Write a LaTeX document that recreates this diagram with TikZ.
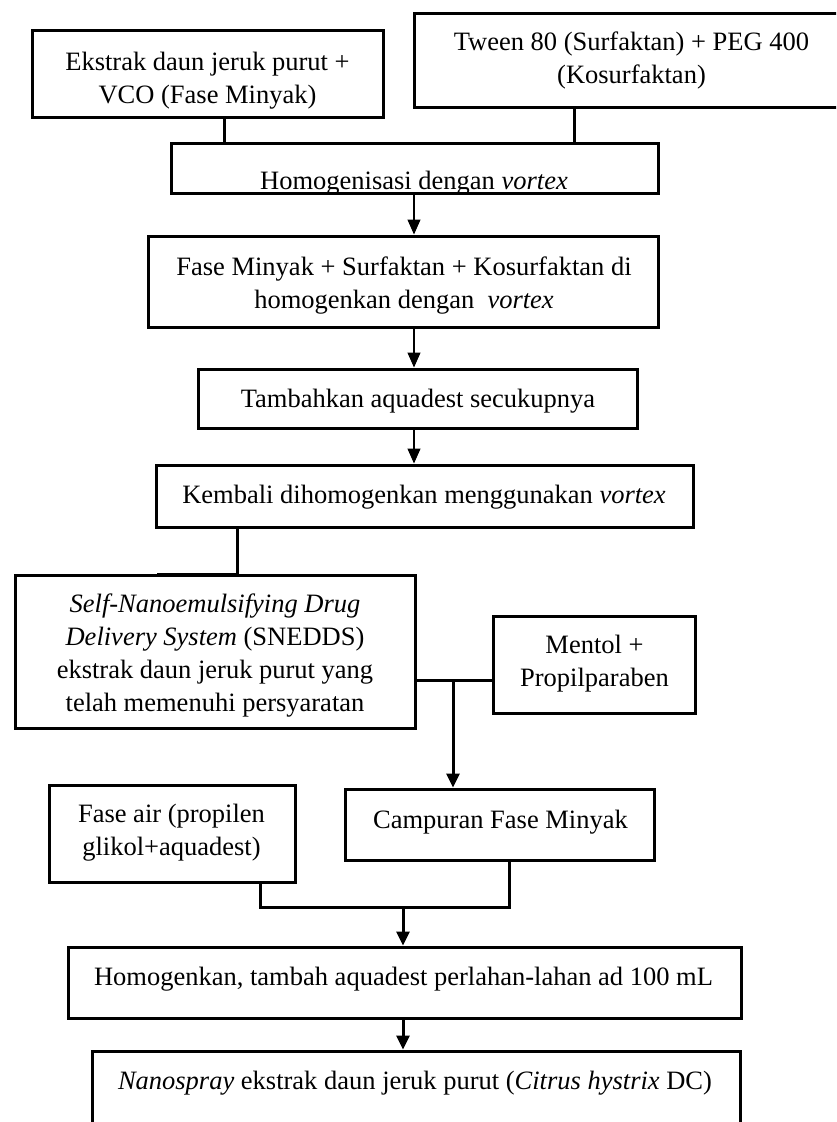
\documentclass[tikz,border=0pt]{standalone}
\usepackage{fontspec}
\setmainfont{Liberation Serif}
\usetikzlibrary{arrows.meta}
\begin{document}
\begin{tikzpicture}[x=1pt,y=-1pt,
  box/.style={draw, line width=3pt, rectangle, inner sep=0pt},
  txt/.style={font=\fontsize{26.5}{33}\selectfont, align=center, inner sep=0pt},
  link/.style={line width=3pt, line join=miter},
  thinarrow/.style={line width=1.2pt, -{Triangle[width=13pt,length=15pt]}},
  thickarrow/.style={line width=3pt, -{Triangle[width=13pt,length=14pt]}},
]
\useasboundingbox (0,0) rectangle (836,1122);
\clip (0,0) rectangle (836,1122);
\fill[white] (0,0) rectangle (836,1122);

% boxes
\node[box, minimum width=351, minimum height=87] (b1) at (207.5,73.5) {};
\node[box, minimum width=436, minimum height=94] (b2) at (632,60) {};
\node[box, minimum width=487, minimum height=50] (homog) at (414.5,168) {};
\node[box, minimum width=510, minimum height=91] (fase) at (403,281.5) {};
\node[box, minimum width=439, minimum height=59] (tamb) at (417.5,398.5) {};
\node[box, minimum width=537, minimum height=62] (kemb) at (424.5,496) {};
\node[box, minimum width=400, minimum height=153] (snedds) at (215,651.5) {};
\node[box, minimum width=202, minimum height=97] (mentol) at (594,664.5) {};
\node[box, minimum width=246, minimum height=97] (fa) at (172,833.5) {};
\node[box, minimum width=309, minimum height=71] (camp) at (499.5,824.5) {};
\node[box, minimum width=673, minimum height=71] (homk) at (404.5,982.5) {};
\node[box, minimum width=648, minimum height=99] (nano) at (416,1100.5) {};

% texts
\node[txt] (t1) at (207.5,80.5) {Ekstrak daun jeruk purut +\\VCO (Fase Minyak)};
\node[txt] (t2) at (631.5,60.5) {Tween 80 (Surfaktan) + PEG 400\\(Kosurfaktan)};
\node[txt] (t3) at (414,183) {Homogenisasi dengan \textit{vortex}};
\node[txt] (t4) at (404,285.5) {Fase Minyak + Surfaktan + Kosurfaktan di\\homogenkan dengan \ \textit{vortex}};
\node[txt] (t5) at (418,401) {Tambahkan aquadest secukupnya};
\node[txt] (t6) at (424,497) {Kembali dihomogenkan menggunakan \textit{vortex}};
\node[txt] (t7) at (215,656) {\textit{Self-Nanoemulsifying Drug}\\\textit{Delivery System} (SNEDDS)\\ekstrak daun jeruk purut yang\\telah memenuhi persyaratan};
\node[txt] (t8) at (594.5,663.5) {Mentol +\\Propilparaben};
\node[txt] (t9) at (171.5,832.5) {Fase air (propilen\\glikol+aquadest)};
\node[txt] (t10) at (500.5,822) {Campuran Fase Minyak};
\node[txt] (t11) at (403.5,979) {Homogenkan, tambah aquadest perlahan-lahan ad 100 mL};
\node[txt] (t12) at (415,1083.5) {\textit{Nanospray} ekstrak daun jeruk purut (\textit{Citrus hystrix} DC)};

% guide coordinates
\coordinate (x1) at (224,0);
\coordinate (x2) at (574,0);
\coordinate (mx) at (414,0);
\coordinate (kx) at (237,0);
\coordinate (kx0) at (157,0);
\coordinate (h1) at (0,680);
\coordinate (j1) at (453,680);
\coordinate (fx0) at (113,0);
\coordinate (fx) at (260,0);
\coordinate (cx) at (509,0);
\coordinate (cx0) at (634,0);
\coordinate (m) at (0,907);
\coordinate (j2) at (403,907);

% connectors
\draw[link] (b1.south -| x1) -- (homog.north -| x1);
\draw[link] (b2.south -| x2) -- (homog.north -| x2);
\draw[thinarrow] (homog.south -| mx) -- (fase.north -| mx);
\draw[thinarrow] (fase.south -| mx) -- (tamb.north -| mx);
\draw[thinarrow] (tamb.south -| mx) -- (kemb.north -| mx);
\draw[link] (kemb.south -| kx) -- ([yshift=-1pt]snedds.north -| kx) -- ([yshift=-1pt]snedds.north -| kx0);
\draw[link] (snedds.east |- h1) -- (mentol.west |- h1);
\draw[thickarrow] (j1) -- (camp.north -| j1);
\draw[link] ([yshift=1pt]fa.south -| fx0) -- ([yshift=1pt]fa.south -| fx) -- (fx |- m) -- (cx |- m) -- ([yshift=1pt]camp.south -| cx) -- ([yshift=1pt]camp.south -| cx0);
\draw[thickarrow] (j2) -- (homk.north -| j2);
\draw[thickarrow] (homk.south -| j2) -- (nano.north -| j2);
\end{tikzpicture}
\end{document}
